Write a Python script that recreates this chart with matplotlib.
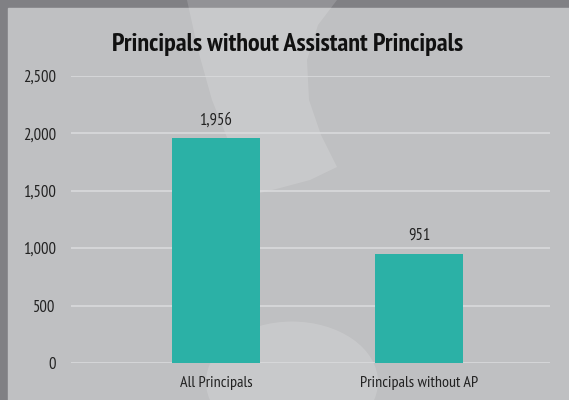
import matplotlib.pyplot as plt
from matplotlib.patches import Rectangle, Polygon, Circle

# data
categories = ["All Principals", "Principals without AP"]
counts = [1956, 951]
yticks = [0, 500, 1000, 1500, 2000, 2500]

W, H = 569, 400
plt.rcParams['font.family'] = ['PT Sans Narrow', 'DejaVu Sans']

fig = plt.figure(figsize=(W / 100, H / 100), dpi=100, facecolor="#808084")

def px(x, y):
    # pixel (top-left origin) -> figure fraction
    return (x / W, 1 - y / H)

# light panel inside the dark frame
fig.patches.append(Rectangle(px(8, H), (W - 8) / W, (H - 8) / H,
                             transform=fig.transFigure, color="#bfc0c2", zorder=0))

# faint watermark shapes
band = [(187, 0), (337, 0), (318, 25), (307, 60), (309, 100), (321, 135), (337, 167),
        (310, 180), (280, 188), (252, 195), (240, 170), (228, 140), (212, 100),
        (198, 50)]
fig.patches.append(Polygon([px(*p) for p in band], closed=True,
                           transform=fig.transFigure, color="white", alpha=0.15,
                           lw=0, zorder=1))
fig.patches.append(Circle(px(292, 382), 86 / W, transform=fig.transFigure,
                          color="white", alpha=0.15, lw=0, zorder=1))

ax = fig.add_axes([71 / W, 37 / H, 479 / W, 287 / H])
ax.set_facecolor("none")
ax.set_zorder(2)

x = list(range(len(categories)))
ax.bar(x, counts, width=0.433, color="#2bb1a6", zorder=3)
for xi, v in zip(x, counts):
    ax.text(xi, v + 85, f"{v:,}", ha="center", va="bottom", fontsize=12,
            color="#222222")

ax.set_xlim(-0.714, 1.645)
ax.set_ylim(0, 2500)
ax.set_yticks(yticks)
ax.set_yticklabels([f"{t:,}" for t in yticks], fontsize=12, color="#222222")
ax.set_xticks(x)
ax.set_xticklabels(categories, fontsize=11.5, color="#222222")
ax.tick_params(length=0, axis="y", pad=11)
ax.tick_params(length=0, axis="x", pad=9)
ax.grid(axis="y", color="#d9dadc", lw=1.2, zorder=0)
for s in ax.spines.values():
    s.set_visible(False)

fig.text(288 / W, 1 - 45 / H, "Principals without Assistant Principals",
         ha="center", va="center", fontsize=18.8, fontweight="bold", color="#111111")

fig.savefig("out.png", dpi=100, facecolor=fig.get_facecolor())
